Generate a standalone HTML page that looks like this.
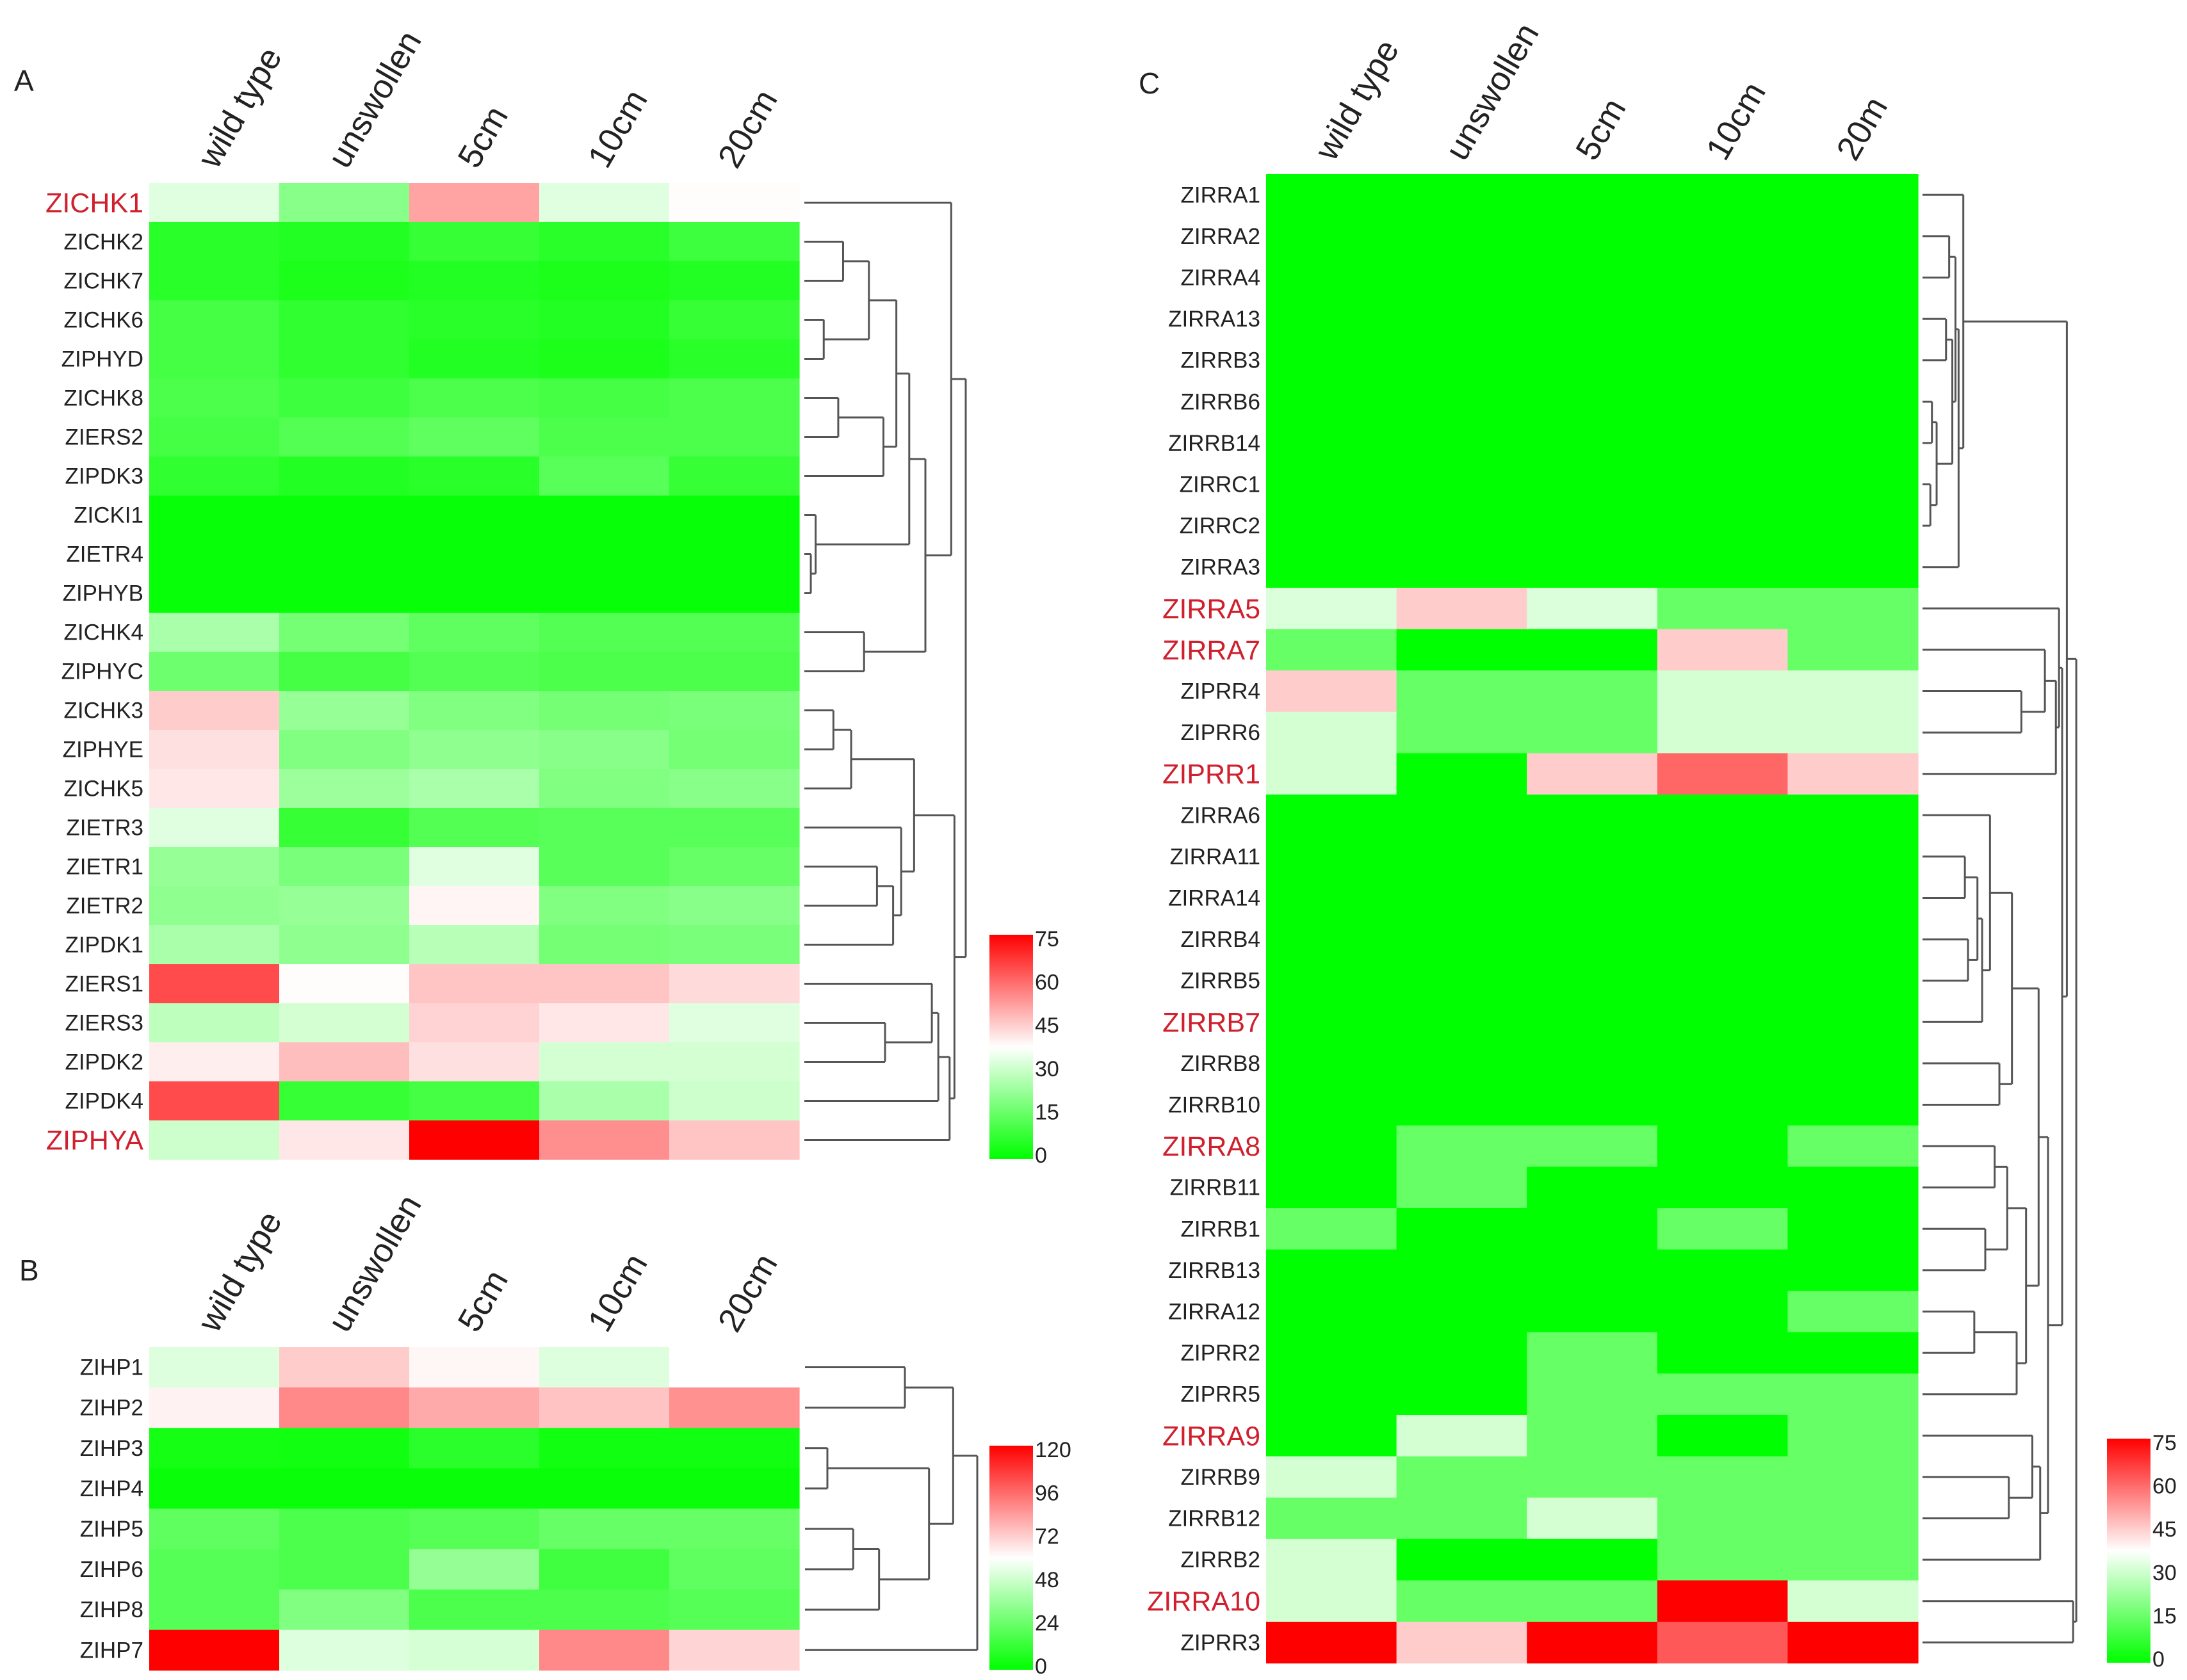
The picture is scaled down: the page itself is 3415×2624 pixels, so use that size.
<!DOCTYPE html>
<html><head><meta charset="utf-8"><style>
html,body{margin:0;padding:0;background:#fff;}
svg{display:block;font-family:"Liberation Sans",Arial,sans-serif;}
</style></head><body>
<svg id="fig" width="3415" height="2624" viewBox="0 0 3415 2624" xmlns="http://www.w3.org/2000/svg">
<text x="22" y="142" font-size="46" fill="#222">A</text>
<text x="30" y="2000" font-size="46" fill="#222">B</text>
<text x="1778" y="146" font-size="46" fill="#222">C</text>
<g id="gA"></g>
<g id="gB"></g>
<g id="gC"></g>
</svg>
<script>
// ---------- data ----------
const colsAB = ["wild type","unswollen","5cm","10cm","20cm"];
const colsC = ["wild type","unswollen","5cm","10cm","20m"];

const rowsA = ["ZICHK1","ZICHK2","ZICHK7","ZICHK6","ZIPHYD","ZICHK8","ZIERS2","ZIPDK3","ZICKI1","ZIETR4","ZIPHYB","ZICHK4","ZIPHYC","ZICHK3","ZIPHYE","ZICHK5","ZIETR3","ZIETR1","ZIETR2","ZIPDK1","ZIERS1","ZIERS3","ZIPDK2","ZIPDK4","ZIPHYA"];
const redA = ["ZICHK1","ZIPHYA"];
const valuesA = [
[33,20,51,33,38],[6,5,8,6,9],[6,4,5,4,5],[10,7,6,5,8],[10,7,5,4,6],
[11,9,11,10,11],[10,12,14,11,11],[7,5,6,13,8],[1,1,1,1,1],[1,1,1,1,1],
[1,1,1,1,1],[25,17,14,12,12],[16,10,12,11,11],[45,22,19,17,18],[42,19,21,20,17],
[41,23,25,19,20],[33,8,12,13,13],[22,18,33,13,15],[21,22,39,19,20],[25,21,27,17,18],
[64,38,46,46,43],[28,31,44,41,33],[40,47,42,31,31],[64,8,10,25,30],[30,41,75,54,46]];
const ticksA = [0,15,30,45,60,75];

const rowsB = ["ZIHP1","ZIHP2","ZIHP3","ZIHP4","ZIHP5","ZIHP6","ZIHP8","ZIHP7"];
const redB = [];
const valuesB = [
[52,72,62,52,60],[63,88,80,74,86],[5,4,10,4,4],[2,2,2,2,2],
[22,18,20,24,24],[20,18,35,15,22],[20,30,18,18,20],[120,52,50,88,70]];
const ticksB = [0,24,48,72,96,120];

const rowsC = ["ZIRRA1","ZIRRA2","ZIRRA4","ZIRRA13","ZIRRB3","ZIRRB6","ZIRRB14","ZIRRC1","ZIRRC2","ZIRRA3","ZIRRA5","ZIRRA7","ZIPRR4","ZIPRR6","ZIPRR1","ZIRRA6","ZIRRA11","ZIRRA14","ZIRRB4","ZIRRB5","ZIRRB7","ZIRRB8","ZIRRB10","ZIRRA8","ZIRRB11","ZIRRB1","ZIRRB13","ZIRRA12","ZIPRR2","ZIPRR5","ZIRRA9","ZIRRB9","ZIRRB12","ZIRRB2","ZIRRA10","ZIPRR3"];
const redC = ["ZIRRA5","ZIRRA7","ZIPRR1","ZIRRB7","ZIRRA8","ZIRRA9","ZIRRA10"];
const valuesC = [
[0,0,0,0,0],[0,0,0,0,0],[0,0,0,0,0],[0,0,0,0,0],[0,0,0,0,0],
[0,0,0,0,0],[0,0,0,0,0],[0,0,0,0,0],[0,0,0,0,0],[0,0,0,0,0],
[32,45,32,15,15],[15,0,0,45,15],[45,15,15,31,31],[31,15,15,31,31],[31,0,45,60,45],
[0,0,0,0,0],[0,0,0,0,0],[0,0,0,0,0],[0,0,0,0,0],[0,0,0,0,0],
[0,0,0,0,0],[0,0,0,0,0],[0,0,0,0,0],[0,15,15,0,15],[0,15,0,0,0],
[15,0,0,15,0],[0,0,0,0,0],[0,0,0,0,15],[0,0,15,0,0],[0,0,15,15,15],
[0,31,15,0,15],[31,15,15,15,15],[15,15,31,15,15],[31,0,0,15,15],[31,15,15,75,31],[75,45,75,62,75]];
const ticksC = [0,15,30,45,60,75];

// dendrogram trees: [height, left, right]; leaf = row index; height in 0..100
const treeA = [100,[91,0,[75,[65,[57,[40,[24,1,2],[12,3,4]],[49,[21,5,6],7]],[7,8,[4,9,10]]],[37,11,12]]],
  [93,[68,[29,[18,13,14],15],[60,16,[55,[45,17,18],19]]],[90,[83,[79,20,[50,21,22]],23],24]]];
const treeB = [100,[86,[58,0,1],[72,[13,2,3],[43,[28,4,5],6]]],7];
const treeC = [98,[92,[26,0,[23,[21,[17,1,2],[19,[15,3,4],[9,[6,5,6],[5,7,8]]]],9]],
  [89,[87,10,[85,[78,11,[63,12,13]],14]],
   [80,[74,[57,[43,15,[38,[35,[27,16,17],[29,18,19]],20]],[49,21,22]],[66,[54,[46,23,24],[40,25,26]],[60,[33,27,28],29]]],
       [75,[70,30,[55,31,32]],33]]]],[96,34,35]];

// ---------- drawing ----------
const NS = "http://www.w3.org/2000/svg";
function mk(tag, attrs, parent){const e=document.createElementNS(NS,tag);for(const k in attrs)e.setAttribute(k,attrs[k]);parent.appendChild(e);return e;}
function color(v,max){
  const t=Math.max(0,Math.min(1,v/max));
  if(t<=0.5){const a=t/0.5;const c=Math.round(255*a);return `rgb(${c},255,${c})`;}
  const a=(t-0.5)/0.5;const c=Math.round(255*(1-a));return `rgb(255,${c},${c})`;
}
function panel(g,cfg){
  const {cols,rows,reds,vals,max,ticks,x0,y0,cw,rh,labelRight,colLabY,tree,dX0,dW,leg} = cfg;
  const xS = i => x0 + i*cw;
  const yS = j => y0 + j*rh;
  rows.forEach((r,j)=>{
    vals[j].forEach((v,i)=>{
      const c = mk('rect',{x:xS(i),y:yS(j),width:cw+0.6,height:rh+0.6,fill:color(v,max)},g);
      
      
    });
    const red = reds.includes(r);
    const t = mk('text',{x:labelRight,y:yS(j)+rh/2+(red?15:12),'text-anchor':'end','font-size':red?43:35,fill:red?'#d0202e':'#222'},g);
    t.textContent=r;
    
    
  });
  cols.forEach((c,i)=>{
    const cx = xS(i)+cw/2+4;
    const t = mk('text',{x:cx,y:colLabY,'font-size':53,fill:'#222',transform:`rotate(-60 ${cx} ${colLabY})`},g);
    t.textContent=c;
    
    
  });
  const dg = mk('g',{stroke:'#555','stroke-width':3,fill:'none'},g);
  
  
  const hx = h => dX0 + h*dW/100;
  function draw(n){
    if(typeof n==='number') return {x:dX0, y:yS(n)+rh/2};
    const a=draw(n[1]), b=draw(n[2]), x=hx(n[0]);
    mk('line',{x1:a.x,y1:a.y,x2:x,y2:a.y},dg);
    mk('line',{x1:b.x,y1:b.y,x2:x,y2:b.y},dg);
    mk('line',{x1:x,y1:a.y,x2:x,y2:b.y},dg);
    return {x:x,y:(a.y+b.y)/2};
  }
  draw(tree);
  const id='grad'+leg.id;
  const defs=mk('defs',{},g);
  const lg=mk('linearGradient',{id:id,x1:0,y1:1,x2:0,y2:0},defs);
  mk('stop',{offset:'0','stop-color':'#00ff00'},lg);
  mk('stop',{offset:'0.5','stop-color':'#ffffff'},lg);
  mk('stop',{offset:'1','stop-color':'#ff0000'},lg);
  const lr = mk('rect',{x:leg.x,y:leg.y,width:68,height:leg.h,fill:`url(#${id})`},g);
  
  
  const tmax = ticks[ticks.length-1];
  ticks.forEach(tv=>{
    const ty = leg.y+leg.h - (tv/tmax)*(leg.h-12) - 6;
    const t = mk('text',{x:leg.x+71,y:ty+12,'font-size':34,fill:'#222'},g);
    t.textContent=tv;
    
    
  });
}
panel(document.getElementById('gA'),{cols:colsAB,rows:rowsA,reds:redA,vals:valuesA,max:75,ticks:ticksA,
  x0:233,y0:286,cw:203,rh:61,labelRight:224,colLabY:266,tree:treeA,dX0:1256,dW:252,
  leg:{id:'A',x:1545,y:1460,h:350}});
panel(document.getElementById('gB'),{cols:colsAB,rows:rowsB,reds:redB,vals:valuesB,max:120,ticks:ticksB,
  x0:233,y0:2104,cw:203,rh:63.1,labelRight:224,colLabY:2084,tree:treeB,dX0:1257,dW:269,
  leg:{id:'B',x:1545,y:2258,h:350}});
panel(document.getElementById('gC'),{cols:colsC,rows:rowsC,reds:redC,vals:valuesC,max:75,ticks:ticksC,
  x0:1977,y0:272,cw:203.6,rh:64.6,labelRight:1968,colLabY:254,tree:treeC,dX0:3002,dW:245,
  leg:{id:'C',x:3290,y:2247,h:350}});
</script>
</body></html>
